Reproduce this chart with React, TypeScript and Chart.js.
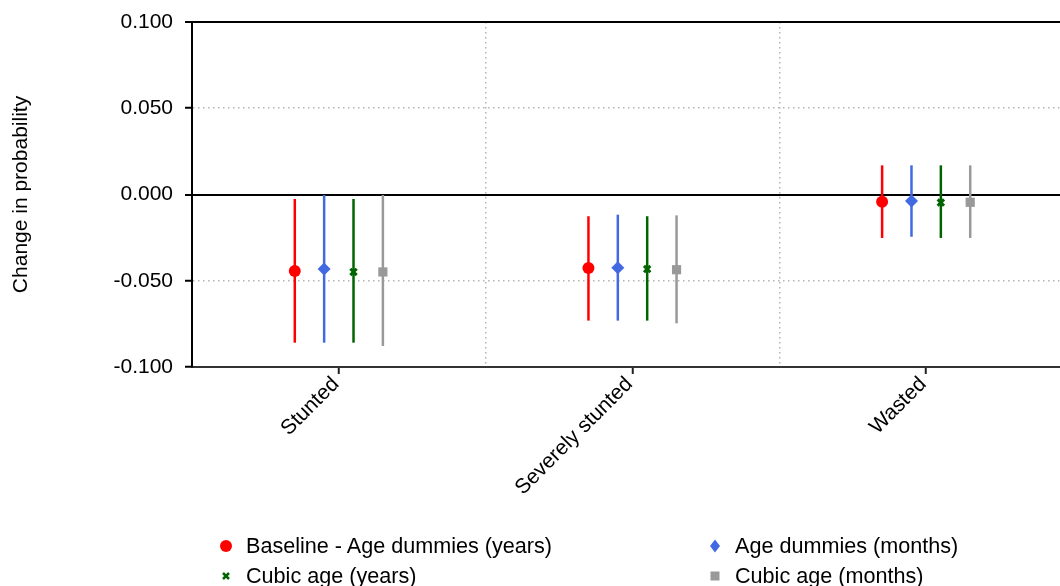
import React, { useEffect, useRef } from 'react';
import { Chart, registerables } from 'chart.js';

Chart.register(...registerables);

const categories = ['Stunted', 'Severely stunted', 'Wasted'];
const seriesNames = [
  'Baseline - Age dummies (years)',
  'Age dummies (months)',
  'Cubic age (years)',
  'Cubic age (months)',
];
const seriesOffsets = [-0.15, -0.05, 0.05, 0.15];

const baselineEst = [-0.0443, -0.0426, -0.0042];
const baselineLo = [-0.0859, -0.0731, -0.0252];
const baselineHi = [-0.0026, -0.0126, 0.0169];

const monthsEst = [-0.0432, -0.0424, -0.0038];
const monthsLo = [-0.0859, -0.0731, -0.0245];
const monthsHi = [-0.0003, -0.0117, 0.0169];

const cubicYearsEst = [-0.0449, -0.0432, -0.0047];
const cubicYearsLo = [-0.0859, -0.0731, -0.0252];
const cubicYearsHi = [-0.0026, -0.0126, 0.0169];

const cubicMonthsEst = [-0.0449, -0.0436, -0.0045];
const cubicMonthsLo = [-0.0878, -0.0747, -0.0252];
const cubicMonthsHi = [-0.0003, -0.0121, 0.0169];

const yTicks = [-0.1, -0.05, 0, 0.05, 0.1];
const xTickValues = [0, 0.5, 1, 1.5, 2];

const seriesEst = [baselineEst, monthsEst, cubicYearsEst, cubicMonthsEst];
const seriesLo = [baselineLo, monthsLo, cubicYearsLo, cubicMonthsLo];
const seriesHi = [baselineHi, monthsHi, cubicYearsHi, cubicMonthsHi];
const seriesColors = ['#ff0000', '#4169e1', '#006400', '#999999'];
const seriesPointStyles = ['circle', 'rectRot', 'crossRot', 'rect'];
const seriesRadius = [6, 6.5, 4.5, 6.5];

const FONT = "'Liberation Sans', Arial, sans-serif";

function Marker({ style, color }: { style: string; color: string }) {
  return (
    <svg width="16" height="16" viewBox="0 0 16 16" style={{ display: 'block' }}>
      {style === 'circle' && <circle cx="8" cy="8" r="6" fill={color} />}
      {style === 'rectRot' && <polygon points="8,1.5 13,8 8,14.5 3,8" fill={color} />}
      {style === 'crossRot' && (
        <g stroke={color} strokeWidth="2.5">
          <line x1="5" y1="5" x2="11" y2="11" />
          <line x1="11" y1="5" x2="5" y2="11" />
        </g>
      )}
      {style === 'rect' && <rect x="3.5" y="3.5" width="9" height="9" fill={color} />}
    </svg>
  );
}

export default function App() {
  const canvasRef = useRef<HTMLCanvasElement | null>(null);

  useEffect(() => {
    if (!canvasRef.current) return;
    Chart.defaults.font.family = FONT;
    Chart.defaults.color = '#000';

    const datasets: any[] = [];
    seriesNames.forEach((name, s) => {
      datasets.push({
        type: 'scatter',
        label: name,
        data: categories.map((_, i) => ({ x: i + seriesOffsets[s], y: seriesEst[s][i] })),
        pointStyle: seriesPointStyles[s],
        pointRadius: seriesRadius[s],
        pointHoverRadius: seriesRadius[s],
        backgroundColor: seriesColors[s],
        borderColor: seriesColors[s],
        borderWidth: seriesPointStyles[s] === 'crossRot' ? 3 : 0,
        order: 0,
      });
    });
    seriesNames.forEach((name, s) => {
      datasets.push({
        type: 'bar',
        label: name + ' CI',
        data: categories.map((_, i) => ({
          x: i + seriesOffsets[s],
          y: [seriesLo[s][i], seriesHi[s][i]],
        })),
        backgroundColor: seriesColors[s],
        borderWidth: 0,
        grouped: false,
        maxBarThickness: 2.5,
        order: 1,
      });
    });

    const isClose = (a: number, b: number) => Math.abs(a - b) < 1e-9;

    const chart = new Chart(canvasRef.current, {
      type: 'scatter',
      data: { datasets },
      options: {
        animation: false,
        responsive: false,
        events: [],
        layout: { padding: { top: 22, right: 12, left: 0, bottom: 0 } },
        plugins: { legend: { display: false }, tooltip: { enabled: false } },
        scales: {
          x: {
            type: 'linear',
            min: -0.5,
            max: 2.5,
            offset: false,
            afterBuildTicks: (scale: any) => {
              scale.ticks = xTickValues.map((v) => ({ value: v }));
            },
            afterFit: (scale: any) => {
              scale.height = 586 - 367;
              scale.paddingLeft = 0;
              scale.paddingRight = 0;
            },
            ticks: {
              autoSkip: false,
              minRotation: 45,
              maxRotation: 45,
              padding: -2,
              labelOffset: -3,
              font: { size: 21 },
              color: '#000',
              callback: (v: any) => (Number.isInteger(v) ? categories[v] : ''),
            },
            grid: {
              offset: false,
              color: (ctx: any) => (ctx.tick && !Number.isInteger(ctx.tick.value) ? '#b4b4b4' : 'rgba(0,0,0,0)'),
              tickColor: (ctx: any) => (ctx.tick && Number.isInteger(ctx.tick.value) ? '#222' : 'rgba(0,0,0,0)'),
              lineWidth: 1.5,
              tickWidth: 2,
              tickLength: 7,
            },
            border: { display: true, color: '#333', width: 2, dash: [1.5, 3.5] },
          },
          y: {
            type: 'linear',
            min: -0.1,
            max: 0.1,
            afterBuildTicks: (scale: any) => {
              scale.ticks = yTicks.map((v) => ({ value: v }));
            },
            afterFit: (scale: any) => {
              scale.width = 192;
              scale.paddingTop = 0;
              scale.paddingBottom = 0;
            },
            title: {
              display: true,
              text: 'Change in probability',
              font: { size: 21 },
              color: '#000',
              padding: { top: 9, bottom: 0 },
            },
            ticks: {
              padding: 12,
              font: { size: 21 },
              color: '#000',
              callback: (v: any) => (Math.abs(v) < 1e-9 ? '0.000' : Number(v).toFixed(3)),
            },
            grid: {
              color: (ctx: any) => {
                const v = ctx.tick ? ctx.tick.value : 0;
                if (isClose(v, 0) || isClose(v, 0.1)) return '#000';
                if (isClose(v, -0.1)) return 'rgba(0,0,0,0)';
                return '#b4b4b4';
              },
              lineWidth: (ctx: any) => {
                const v = ctx.tick ? ctx.tick.value : 0;
                return isClose(v, 0) || isClose(v, 0.1) ? 2 : 1.5;
              },
              tickColor: '#000',
              tickWidth: 2,
              tickLength: 7,
            },
            border: {
              display: true,
              color: '#000',
              width: 2,
              dash: (ctx: any) => {
                const v = ctx.tick ? ctx.tick.value : 1;
                return isClose(v, 0) || isClose(v, 0.1) ? [] : [1.5, 3.5];
              },
            },
          },
        },
      } as any,
    });
    return () => chart.destroy();
  }, []);

  const legendPos = [
    { left: 218, top: 546 },
    { left: 707, top: 546 },
    { left: 218, top: 576 },
    { left: 707, top: 576 },
  ];

  return (
    <div
      style={{
        position: 'fixed',
        left: 0,
        top: 0,
        width: 1060,
        height: 586,
        overflow: 'hidden',
        background: '#fff',
      }}
    >
      <canvas ref={canvasRef} width={1085} height={586} style={{ width: 1085, height: 586, display: 'block' }} />
      {seriesNames.map((name, s) => (
        <div
          key={name}
          style={{
            position: 'absolute',
            left: legendPos[s].left,
            top: legendPos[s].top - 12,
            height: 24,
            display: 'flex',
            alignItems: 'center',
            fontFamily: FONT,
            fontSize: 21.6,
            color: '#000',
            whiteSpace: 'nowrap',
          }}
        >
          <Marker style={seriesPointStyles[s]} color={seriesColors[s]} />
          <span style={{ marginLeft: 12, lineHeight: '24px' }}>{name}</span>
        </div>
      ))}
    </div>
  );
}
